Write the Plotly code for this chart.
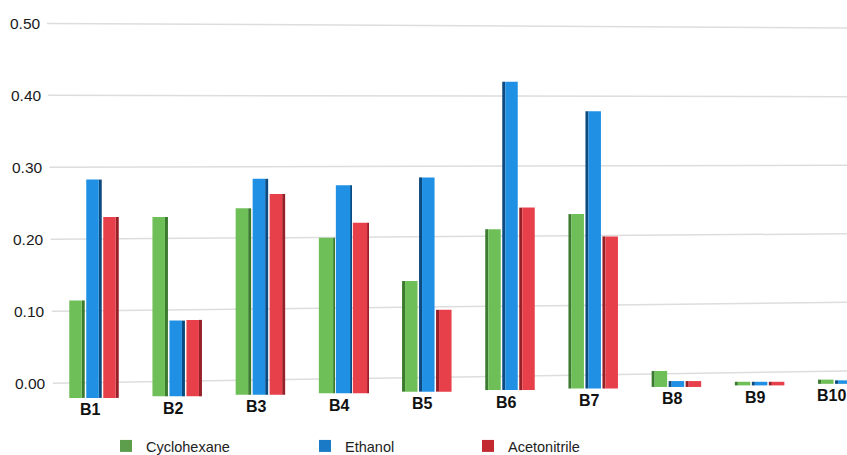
import plotly.graph_objects as go

# ---------------------------------------------------------------- data
categories = ["B1", "B2", "B3", "B4", "B5", "B6", "B7", "B8", "B9", "B10"]
cyclohexane = [0.115, 0.231, 0.243, 0.202, 0.142, 0.214, 0.235, 0.017, 0.002, 0.005]
ethanol = [0.283, 0.087, 0.284, 0.275, 0.286, 0.419, 0.378, 0.003, 0.002, 0.004]
acetonitrile = [0.231, 0.088, 0.263, 0.223, 0.102, 0.244, 0.204, 0.003, 0.002, 0.003]
y_ticks = [0.0, 0.1, 0.2, 0.3, 0.4, 0.5]
y_tick_labels = ["0.00", "0.10", "0.20", "0.30", "0.40", "0.50"]

series = [
    # name, values, front colour, side colour, legend swatch colour
    ("Cyclohexane", cyclohexane, "#6fbf58", "#3c7a30", "#5c9e4c"),
    ("Ethanol", ethanol, "#1f90e3", "#0c4a80", "#1a7ac6"),
    ("Acetonitrile", acetonitrile, "#e8404a", "#962027", "#c22a30"),
]

# ---------------------------------------------------------------- geometry
W, H = 847, 455
PX0, PPU = 94.0, 83.2            # pixel centre of first category, pixels per category
Y0_PX, PPV = 383.3, 720.0        # pixel row of value 0, pixels per value unit
Y_MIN, Y_MAX = -0.04, 0.52
top_margin = Y0_PX - PPV * Y_MAX
bottom_margin = H - (Y0_PX - PPV * Y_MIN)
x_lo = -PX0 / PPU
x_hi = (W - PX0) / PPU


def px_to_x(px):
    return (px - PX0) / PPU


def px_to_y(px):
    return (Y0_PX - px) / PPV


n = len(categories)
xs = list(range(n))
# the floor of the 3D box rises slightly towards the back-right
floors = [-0.0204 + 0.00217 * i for i in xs]
# visible side face: right side for the left groups, left side further right
side_px = [3, 3, 3, 1, -3, -3, -3, -3, -3, -3]

foot = 15.5 / PPU
pitch = 17.0 / PPU
start = -24.75 / PPU

fig = go.Figure()

for k, (name, vals, c_front, c_side, c_leg) in enumerate(series):
    f_off, f_w, s_off, s_w = [], [], [], []
    for i in xs:
        s = abs(side_px[i]) / PPU
        base_off = start + pitch * k
        if side_px[i] >= 0:
            f_off.append(base_off)
            f_w.append(foot - s)
            s_off.append(base_off + foot - s)
        else:
            s_off.append(base_off)
            f_off.append(base_off + s)
            f_w.append(foot - s)
        s_w.append(max(s, 1e-4))
    heights = [v - b for v, b in zip(vals, floors)]
    fig.add_trace(go.Bar(
        x=xs, y=heights, base=floors, offset=s_off, width=s_w,
        marker=dict(color=c_side, line=dict(width=0)),
        showlegend=False, hoverinfo="skip",
    ))
    fig.add_trace(go.Bar(
        x=xs, y=heights, base=floors, offset=f_off, width=f_w,
        marker=dict(color=c_front, line=dict(width=0)),
        showlegend=False, name=name,
        customdata=vals, hovertemplate=name + ": %{customdata:.3f}<extra></extra>",
    ))
    # legend entry with the flat swatch colour
    fig.add_trace(go.Bar(
        x=[None], y=[None], name=name,
        marker=dict(color=c_leg, line=dict(width=0)),
        legend="legend" if k == 0 else f"legend{k + 1}",
        showlegend=True,
    ))

# receding gridlines and value labels on the back wall
shapes, annotations = [], []
for v, lab in zip(y_ticks, y_tick_labels):
    left_px = 53 - 12 * v
    right_px_row = 371 - 686 * v
    shapes.append(dict(
        type="line", xref="x", yref="y", layer="below",
        x0=px_to_x(left_px), y0=v, x1=x_hi, y1=px_to_y(right_px_row),
        line=dict(color="#dddddd", width=1.5),
    ))
    annotations.append(dict(
        xref="paper", yref="y", x=(48 - 10 * v) / W, y=v,
        xanchor="right", yanchor="middle", showarrow=False, text=lab,
        font=dict(family="Liberation Sans, Arial, sans-serif", size=15.5, color="#1a1a1a"),
    ))

# category labels along the front edge of the floor, kept inside the frame
label_font = dict(family="Liberation Sans, Arial, sans-serif", size=16,
                  color="#111111", weight="bold")
for i, cat in zip(xs, categories):
    centre_px = PX0 + PPU * i
    half_w = 0.3 * label_font["size"] * len(cat)
    shift = min(-4.0, (W - 1) - half_w - centre_px)
    annotations.append(dict(
        xref="x", yref="y", x=i, y=floors[i], xshift=shift, yshift=-12,
        xanchor="center", yanchor="middle", showarrow=False, text=cat,
        font=label_font,
    ))

leg_font = dict(family="Liberation Sans, Arial, sans-serif", size=14.5, color="#222222")
legend_xs = [120, 319, 482]
legends = {}
for k, lx in enumerate(legend_xs):
    key = "legend" if k == 0 else f"legend{k + 1}"
    legends[key] = dict(
        xref="container", yref="container",
        x=(lx - 14) / W, xanchor="left", y=1 - 446 / H, yanchor="middle",
        orientation="h", font=leg_font, bgcolor="rgba(0,0,0,0)",
        borderwidth=0, itemclick=False, itemdoubleclick=False,
    )

fig.update_layout(
    width=W, height=H,
    margin=dict(l=0, r=0, t=top_margin, b=bottom_margin, pad=0, autoexpand=False),
    paper_bgcolor="white", plot_bgcolor="white",
    barmode="overlay",
    xaxis=dict(range=[x_lo, x_hi], showgrid=False, zeroline=False,
               showticklabels=False, showline=False, fixedrange=True),
    yaxis=dict(range=[Y_MIN, Y_MAX], showgrid=False, zeroline=False,
               showticklabels=False, showline=False, fixedrange=True),
    shapes=shapes,
    annotations=annotations,
    **legends,
)

fig.write_html("out.html", config={"displayModeBar": False})
